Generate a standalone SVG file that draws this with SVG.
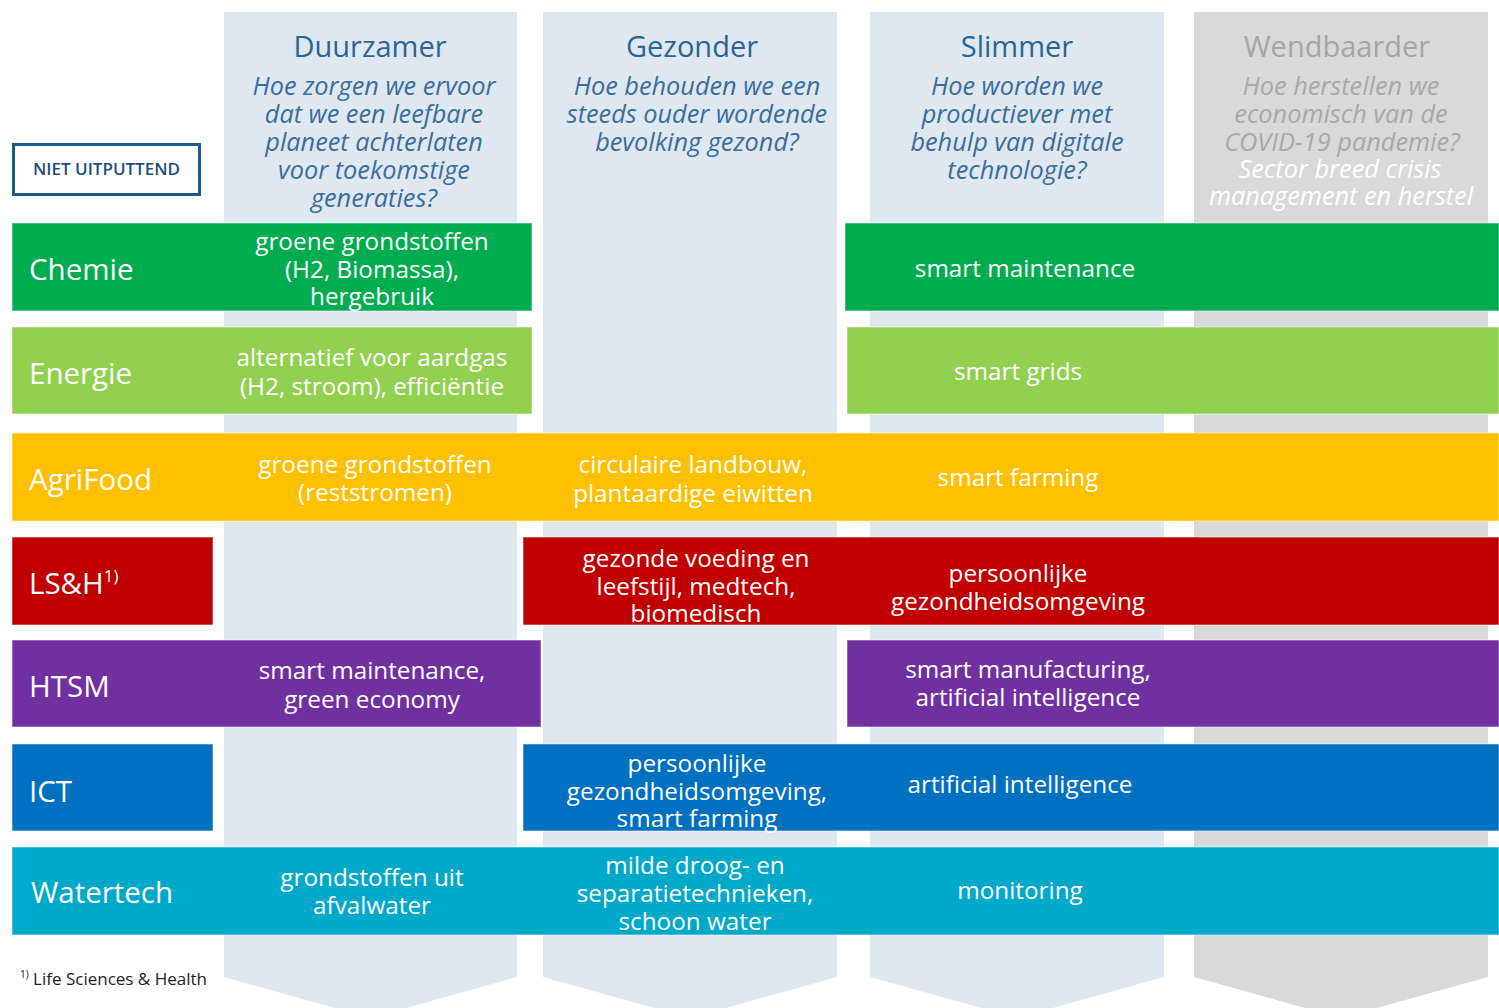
<svg xmlns="http://www.w3.org/2000/svg" width="1499" height="1008" viewBox="0 0 1499 1008">
<style>
  text { font-family: "Open Sans", "Noto Sans", "DejaVu Sans", sans-serif; }
  .col { fill: #dfe8f1; }
  .colg { fill: #d9d9d9; }
  .title { font-size: 29px; fill: #2b6496; text-anchor: middle; }
  .titleg { font-size: 29px; fill: #a6a6a6; text-anchor: middle; }
  .sub { font-size: 25.3px; font-style: italic; fill: #3b6d9d; text-anchor: middle; }
  .subg { font-size: 25.3px; font-style: italic; fill: #a9a9a9; text-anchor: middle; }
  .subw { font-size: 25.3px; font-style: italic; fill: #ffffff; text-anchor: middle; }
  .band { stroke: #ffffff; stroke-opacity: 0.55; stroke-width: 1; }
  .lbl { font-size: 29.5px; fill: #ffffff; }
  .cell { font-size: 24.3px; fill: #ffffff; text-anchor: middle; }
</style>

<g id="columns">
  <g id="col-duurzamer">
    <path class="col" d="M224 12 H517 V977 L370.5 1018 L224 977 Z"/>
    <text class="title" x="370" y="57">Duurzamer</text>
    <text class="sub" x="374" y="95">Hoe zorgen we ervoor</text>
    <text class="sub" x="374" y="123">dat we een leefbare</text>
    <text class="sub" x="374" y="151">planeet achterlaten</text>
    <text class="sub" x="374" y="179">voor toekomstige</text>
    <text class="sub" x="374" y="207">generaties?</text>
  </g>
  <g id="col-gezonder">
    <path class="col" d="M543 12 H837 V977 L690 1018 L543 977 Z"/>
    <text class="title" x="692" y="57">Gezonder</text>
    <text class="sub" x="697" y="95">Hoe behouden we een</text>
    <text class="sub" x="697" y="123">steeds ouder wordende</text>
    <text class="sub" x="697" y="151">bevolking gezond?</text>
  </g>
  <g id="col-slimmer">
    <path class="col" d="M870 12 H1164 V977 L1017 1018 L870 977 Z"/>
    <text class="title" x="1017" y="57">Slimmer</text>
    <text class="sub" x="1017" y="95">Hoe worden we</text>
    <text class="sub" x="1017" y="123">productiever met</text>
    <text class="sub" x="1017" y="151">behulp van digitale</text>
    <text class="sub" x="1017" y="179">technologie?</text>
  </g>
  <g id="col-wendbaarder">
    <path class="colg" d="M1194 12 H1488 V977 L1341 1018 L1194 977 Z"/>
    <text class="titleg" x="1337" y="57">Wendbaarder</text>
    <text class="subg" x="1341" y="95">Hoe herstellen we</text>
    <text class="subg" x="1341" y="123">economisch van de</text>
    <text class="subg" x="1342" y="151">COVID-19 pandemie?</text>
    <text class="subw" x="1340" y="178">Sector breed crisis</text>
    <text class="subw" x="1341" y="205">management en herstel</text>
  </g>
</g>

<g id="note-box">
  <rect x="13.5" y="144.5" width="186" height="50" fill="#ffffff" stroke="#1f5a8c" stroke-width="3"/>
  <text x="106.5" y="175" font-size="17" font-weight="600" fill="#1f4e79" text-anchor="middle">NIET UITPUTTEND</text>
</g>

<g id="connectors"></g>

<g id="row-chemie">
  <rect class="band" x="12" y="223" width="520" height="88" fill="#00ac4f"/>
  <rect class="band" x="845" y="223" width="654" height="88" fill="#00ac4f"/>
  <text class="lbl" x="29" y="280">Chemie</text>
  <text class="cell" x="372" y="250">groene grondstoffen</text>
  <text class="cell" x="372" y="278">(H2, Biomassa),</text>
  <text class="cell" x="372" y="305">hergebruik</text>
  <text class="cell" x="1025" y="277">smart maintenance</text>
</g>

<g id="row-energie">
  <rect class="band" x="12" y="327" width="520" height="87" fill="#92d050"/>
  <rect class="band" x="847" y="327" width="652" height="87" fill="#92d050"/>
  <text class="lbl" x="29" y="384">Energie</text>
  <text class="cell" x="372" y="366">alternatief voor aardgas</text>
  <text class="cell" x="372" y="395">(H2, stroom), efficiëntie</text>
  <text class="cell" x="1018" y="380">smart grids</text>
</g>

<g id="row-agrifood">
  <rect class="band" x="12" y="433" width="1487" height="88" fill="#ffc000"/>
  <text class="lbl" x="29" y="490">AgriFood</text>
  <text class="cell" x="375" y="473">groene grondstoffen</text>
  <text class="cell" x="375" y="501">(reststromen)</text>
  <text class="cell" x="693" y="473">circulaire landbouw,</text>
  <text class="cell" x="693" y="502">plantaardige eiwitten</text>
  <text class="cell" x="1018" y="486">smart farming</text>
</g>

<g id="row-lsh">
  <rect class="band" x="12" y="537" width="201" height="88" fill="#c00000"/>
  <rect class="band" x="523" y="537" width="976" height="88" fill="#c00000"/>
  <text class="lbl" x="29" y="594">LS&amp;H<tspan font-size="17" dy="-12">1)</tspan></text>
  <text class="cell" x="696" y="567">gezonde voeding en</text>
  <text class="cell" x="696" y="595">leefstijl, medtech,</text>
  <text class="cell" x="696" y="622">biomedisch</text>
  <text class="cell" x="1018" y="582">persoonlijke</text>
  <text class="cell" x="1018" y="610">gezondheidsomgeving</text>
</g>

<g id="row-htsm">
  <rect class="band" x="12" y="640" width="529" height="87" fill="#7030a0"/>
  <rect class="band" x="847" y="640" width="652" height="87" fill="#7030a0"/>
  <text class="lbl" x="29" y="697">HTSM</text>
  <text class="cell" x="372" y="679">smart maintenance,</text>
  <text class="cell" x="372" y="708">green economy</text>
  <text class="cell" x="1028" y="678">smart manufacturing,</text>
  <text class="cell" x="1028" y="706">artificial intelligence</text>
</g>

<g id="row-ict">
  <rect class="band" x="12" y="744" width="201" height="87" fill="#0070c0"/>
  <rect class="band" x="523" y="744" width="976" height="87" fill="#0070c0"/>
  <text class="lbl" x="29" y="802">ICT</text>
  <text class="cell" x="697" y="772">persoonlijke</text>
  <text class="cell" x="697" y="800">gezondheidsomgeving,</text>
  <text class="cell" x="697" y="827">smart farming</text>
  <text class="cell" x="1020" y="793">artificial intelligence</text>
</g>

<g id="row-watertech">
  <rect class="band" x="12" y="847" width="1487" height="88" fill="#00a9c9"/>
  <text class="lbl" x="31" y="903" font-size="29">Watertech</text>
  <text class="cell" x="372" y="886">grondstoffen uit</text>
  <text class="cell" x="372" y="914">afvalwater</text>
  <text class="cell" x="695" y="874">milde droog- en</text>
  <text class="cell" x="695" y="902">separatietechnieken,</text>
  <text class="cell" x="695" y="930">schoon water</text>
  <text class="cell" x="1020" y="899">monitoring</text>
</g>

<g id="footnote">
  <text x="20" y="985" font-size="17" fill="#222222"><tspan font-size="10" dy="-7">1)</tspan><tspan dy="7"> Life Sciences &amp; Health</tspan></text>
</g>
</svg>
